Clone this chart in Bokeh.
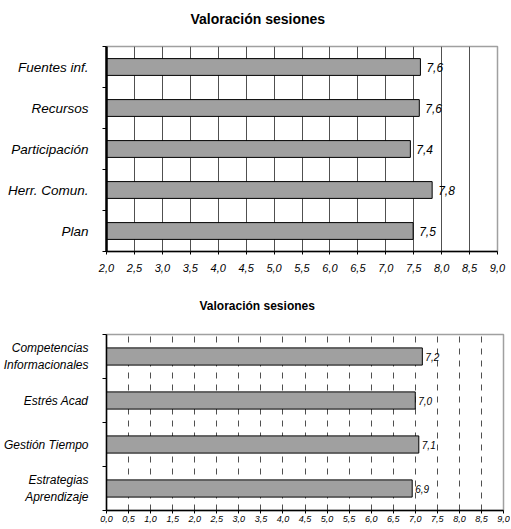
from bokeh.plotting import figure
from bokeh.layouts import column
from bokeh.models import FixedTicker, Range1d, ColumnDataSource
from bokeh.embed import file_html
from bokeh.resources import INLINE
from bokeh.core.properties import value

# ---------------- data ----------------
title1 = "Valoración sesiones"
cats1 = ["Fuentes inf.", "Recursos", "Participación", "Herr. Comun.", "Plan"]
vals1 = [7.62, 7.60, 7.44, 7.83, 7.49]
ticks1 = [2.0, 2.5, 3.0, 3.5, 4.0, 4.5, 5.0, 5.5, 6.0, 6.5, 7.0, 7.5, 8.0, 8.5, 9.0]
ticklabels1 = ["2,0", "2,5", "3,0", "3,5", "4,0", "4,5", "5,0", "5,5", "6,0",
               "6,5", "7,0", "7,5", "8,0", "8,5", "9,0"]

title2 = "Valoración sesiones"
cats2 = ["Competencias\nInformacionales", "Estrés Acad", "Gestión Tiempo",
         "Estrategias\nAprendizaje"]
vals2 = [7.16, 7.00, 7.08, 6.93]
ticks2 = [0.0, 0.5, 1.0, 1.5, 2.0, 2.5, 3.0, 3.5, 4.0, 4.5, 5.0, 5.5, 6.0,
          6.5, 7.0, 7.5, 8.0, 8.5, 9.0]
ticklabels2 = ["0,0", "0,5", "1,0", "1,5", "2,0", "2,5", "3,0", "3,5", "4,0",
               "4,5", "5,0", "5,5", "6,0", "6,5", "7,0", "7,5", "8,0", "8,5", "9,0"]

FONT = "Liberation Sans"


def make_chart(title, cats, vals, ticks, ticklabels, frame_w, frame_h,
               border_top, border_bottom, border_right, title_size,
               title_offset, title_standoff, cat_size, tick_size, val_size,
               bar_h, dash, left_w, val_off, tick_standoff):
    n = len(cats)
    centers = [n - i - 0.5 for i in range(n)]
    bounds = [float(i) for i in range(n + 1)]
    lo, hi = ticks[0], ticks[-1]
    p = figure(frame_width=frame_w, frame_height=frame_h,
               output_backend="svg", toolbar_location=None,
               x_range=Range1d(lo, hi), y_range=Range1d(0, n),
               min_border_left=106, min_border_right=border_right,
               min_border_top=border_top, min_border_bottom=border_bottom)
    # trailing empty line keeps the title higher above the plot area
    p.title.text = title + "\n"
    p.title.text_font = FONT
    p.title.text_font_size = title_size
    p.title.text_font_style = "bold"
    p.title.align = "left"
    p.title.offset = title_offset
    p.title.standoff = title_standoff
    p.title.text_color = "black"

    p.outline_line_color = "#a0a0a0"
    p.outline_line_width = 1.5
    p.background_fill_color = "white"
    p.border_fill_color = "white"

    src = ColumnDataSource(dict(
        y=centers, right=vals, left=[lo] * n,
        lab=[f"{v:.1f}".replace(".", ",") for v in vals]))
    p.hbar(y="y", left="left", right="right", height=bar_h, source=src,
           fill_color="#a0a0a0", line_color="black", line_width=1)
    p.text(x="right", y="y", text="lab", source=src, x_offset=val_off,
           text_baseline="middle", text_align="left",
           text_font=value(FONT), text_font_size=val_size,
           text_font_style="italic", text_color="black")

    # x axis
    xa = p.below[0]
    xa.ticker = FixedTicker(ticks=ticks)
    xa.major_label_overrides = {t: l for t, l in zip(ticks, ticklabels)}
    xa.major_label_text_font = FONT
    xa.major_label_text_font_size = tick_size
    xa.major_label_text_font_style = "italic"
    xa.major_label_text_color = "black"
    xa.major_label_standoff = tick_standoff
    xa.axis_line_color = "black"
    xa.axis_line_width = 1.5
    xa.major_tick_line_color = "black"
    xa.major_tick_out = 3
    xa.major_tick_in = 0
    xa.minor_tick_line_color = None

    # y axis
    ya = p.left[0]
    ya.ticker = FixedTicker(ticks=centers, minor_ticks=bounds)
    ya.major_label_overrides = {c: name for c, name in zip(centers, cats)}
    ya.major_label_text_font = FONT
    ya.major_label_text_font_size = cat_size
    ya.major_label_text_font_style = "italic"
    ya.major_label_text_color = "black"
    ya.major_label_standoff = 12
    ya.major_tick_line_color = None
    ya.minor_tick_line_color = "black"
    ya.minor_tick_out = 4
    ya.minor_tick_in = 0
    ya.axis_line_color = "black"
    ya.axis_line_width = left_w

    p.ygrid.grid_line_color = None
    p.xgrid.ticker = FixedTicker(ticks=ticks[1:-1])
    p.xgrid.grid_line_color = "#505050"
    p.xgrid.grid_line_width = 1
    if dash:
        p.xgrid.grid_line_dash = dash
    return p


p1 = make_chart(title1, cats1, vals1, ticks1, ticklabels1, frame_w=391,
                frame_h=205, border_top=46, border_bottom=33, border_right=10,
                title_size="14px", title_offset=84, title_standoff=8,
                cat_size="13.5px", tick_size="11px", val_size="12px",
                bar_h=0.41, dash=None, left_w=2.5, val_off=6, tick_standoff=9)
p2 = make_chart(title2, cats2, vals2, ticks2, ticklabels2, frame_w=397,
                frame_h=176, border_top=50, border_bottom=18, border_right=7,
                title_size="12px", title_offset=93, title_standoff=16,
                cat_size="12px", tick_size="9px", val_size="10px",
                bar_h=0.39, dash="6 6", left_w=1.5, val_off=3,
                tick_standoff=2)

layout = column(p1, p2, spacing=0)
open("out.html", "w").write(file_html(layout, INLINE))
